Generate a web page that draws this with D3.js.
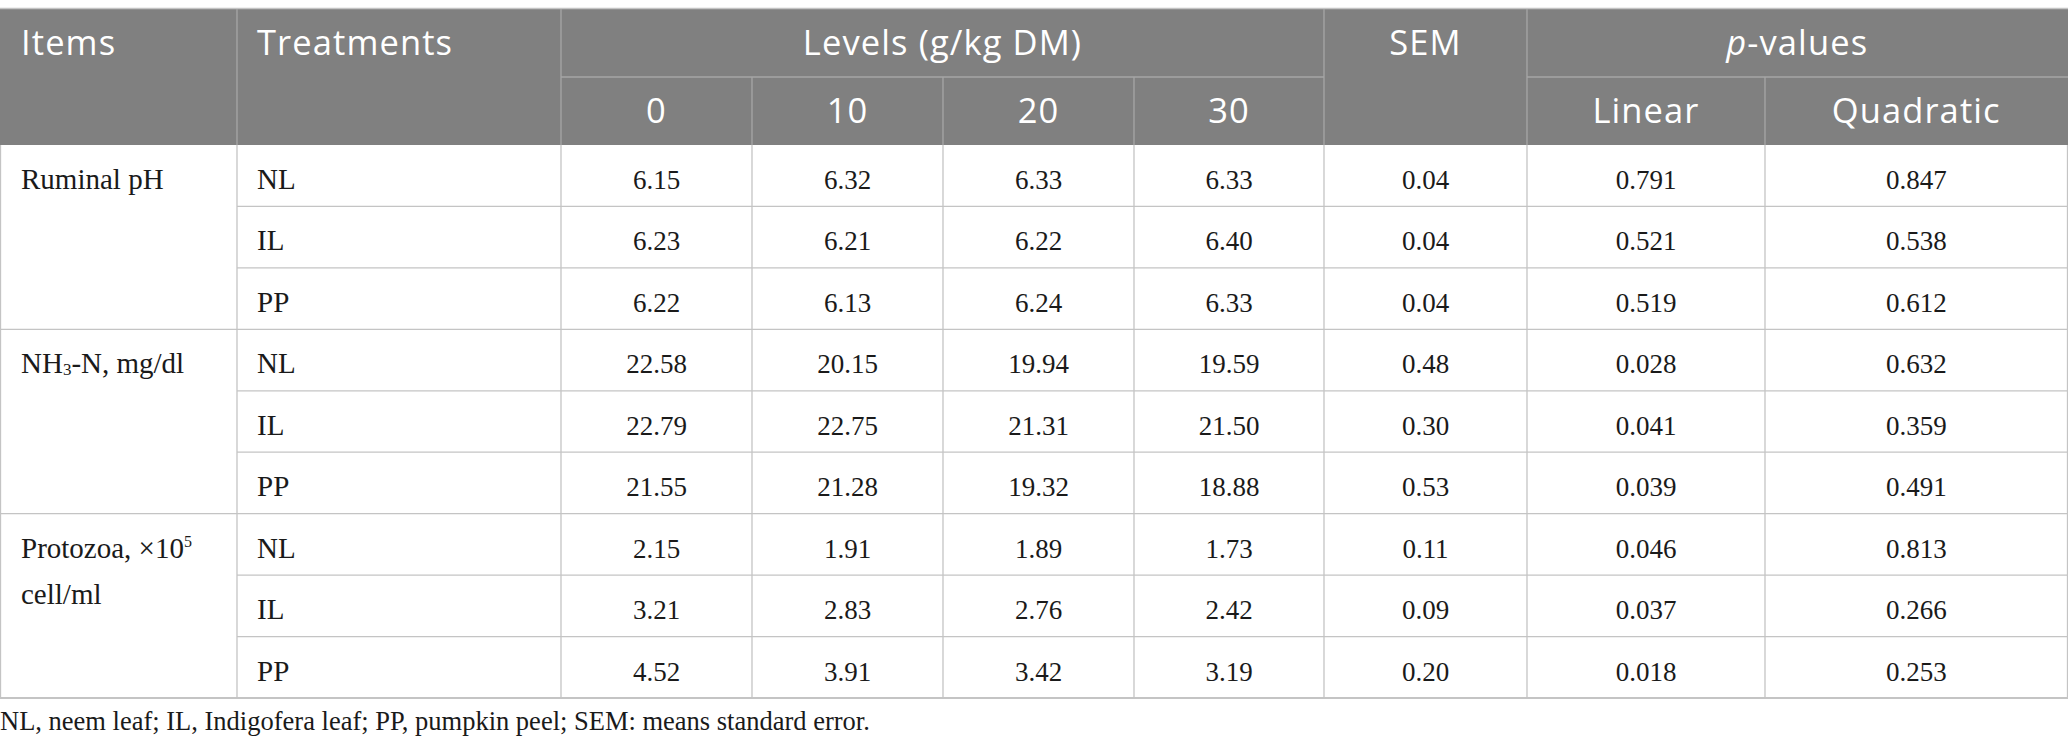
<!DOCTYPE html>
<html><head><meta charset="utf-8">
<script src="https://cdn.jsdelivr.net/npm/d3@7"></script>
<style>body{margin:0;background:#fff}svg{display:block}</style>
</head><body>
<svg id="t" width="2068" height="754"></svg>
<script>
// ---- data ----
const items = ["Ruminal pH", "NH₃-N, mg/dl", "Protozoa, ×10⁵ cell/ml"];
const treatments = ["NL", "IL", "PP"];
const levels = ["0", "10", "20", "30"];
const level0  = [6.15, 6.23, 6.22, 22.58, 22.79, 21.55, 2.15, 3.21, 4.52];
const level10 = [6.32, 6.21, 6.13, 20.15, 22.75, 21.28, 1.91, 2.83, 3.91];
const level20 = [6.33, 6.22, 6.24, 19.94, 21.31, 19.32, 1.89, 2.76, 3.42];
const level30 = [6.33, 6.40, 6.33, 19.59, 21.50, 18.88, 1.73, 2.42, 3.19];
const sem      = [0.04, 0.04, 0.04, 0.48, 0.30, 0.53, 0.11, 0.09, 0.20];
const linear   = [0.791, 0.521, 0.519, 0.028, 0.041, 0.039, 0.046, 0.037, 0.018];
const quadratic= [0.847, 0.538, 0.612, 0.632, 0.359, 0.491, 0.813, 0.266, 0.253];
const footnote = "NL, neem leaf; IL, Indigofera leaf; PP, pumpkin peel; SEM: means standard error.";

// ---- layout ----
const svg = d3.select("#t");
const colKeys = ["items","treat","l0","l10","l20","l30","sem","lin","quad","end"];
const colX = d3.scaleOrdinal().domain(colKeys).range([0.5,237,561,752,943,1134,1324,1527,1765,2067.5]);
const nextCol = k => colKeys[colKeys.indexOf(k)+1];
const colMid = k => (colX(k)+colX(nextCol(k)))/2;
const hdrTop = 9, hdrMid = 77, hdrBot = 145, tblBot = 698;
const rowY = d3.scaleBand().domain(d3.range(9)).range([hdrBot, tblBot]);
const HEAD = "'Open Sans', 'Noto Sans', sans-serif";
const SERIF = "'Liberation Serif', 'Times New Roman', serif";
const gridC = "#c4c4c4", hdrLine = "#a6a6a6", hdrBg = "#808080";

// header background
svg.append("rect").attr("x",0).attr("y",hdrTop).attr("width",2068).attr("height",hdrBot-hdrTop).attr("fill",hdrBg);
svg.append("line").attr("x1",0).attr("x2",2068).attr("y1",hdrTop-0.5).attr("y2",hdrTop-0.5).attr("stroke",gridC).attr("stroke-width",1.5);

const hl = (x1,y1,x2,y2,c,w)=>svg.append("line").attr("x1",x1).attr("y1",y1).attr("x2",x2).attr("y2",y2).attr("stroke",c).attr("stroke-width",w||1.3);
// header lines
["treat","l0","sem","lin"].forEach(k=>hl(colX(k),hdrTop,colX(k),hdrBot,hdrLine));
["l10","l20","l30","quad"].forEach(k=>hl(colX(k),hdrMid,colX(k),hdrBot,hdrLine));
hl(colX("l0"),hdrMid,colX("sem"),hdrMid,hdrLine);
hl(colX("lin"),hdrMid,2068,hdrMid,hdrLine);

// header text
const htxt = (x,y,s,anchor)=>svg.append("text").attr("x",x).attr("y",y).attr("text-anchor",anchor||"middle")
  .attr("font-family",HEAD).attr("font-size",34.5).attr("letter-spacing",1.1).attr("fill","#fff").text(s);
const b1 = hdrTop + 46, b2 = hdrMid + 46;
htxt(21,b1,"Items","start");
htxt(colX("treat")+20,b1,"Treatments","start");
htxt((colX("l0")+colX("sem"))/2,b1,"Levels (g/kg DM)");
htxt(colMid("sem"),b1,"SEM");
const pv = htxt((colX("lin")+colX("end"))/2,b1,"");
pv.append("tspan").attr("font-style","italic").text("p");
pv.append("tspan").text("-values");
levels.forEach((l,i)=>htxt(colMid(["l0","l10","l20","l30"][i]),b2,l));
htxt(colMid("lin"),b2,"Linear");
htxt(colMid("quad"),b2,"Quadratic");

// body grid
d3.range(1,9).forEach(i=>{
  const y = rowY(i);
  const x1 = (i%3===0) ? 0 : colX("treat");
  hl(x1,y,2068,y,gridC);
});
hl(0,tblBot,2068,tblBot,gridC,1.8);
colKeys.forEach(k=>hl(colX(k),hdrBot,colX(k),tblBot,gridC));

// body text
const btxt = (x,y,s,anchor,fs)=>svg.append("text").attr("x",x).attr("y",y).attr("text-anchor",anchor||"middle")
  .attr("font-family",SERIF).attr("font-size",fs||27).attr("fill","#1a1a1a").text(s);
const bo = 44;
// items
btxt(21,rowY(0)+bo,items[0],"start",29);
const nh = btxt(21,rowY(3)+bo,"","start",29);
nh.append("tspan").text("NH");
nh.append("tspan").attr("font-size",17).attr("dy",2).text("3");
nh.append("tspan").attr("dy",-2).text("-N, mg/dl");
const pr = btxt(21,rowY(6)+bo,"","start",29);
pr.append("tspan").text("Protozoa, ×10");
pr.append("tspan").attr("font-size",16).attr("dy",-11).text("5");
btxt(21,rowY(6)+bo+46,"cell/ml","start",29);

const cols = [["l0",level0,2],["l10",level10,2],["l20",level20,2],["l30",level30,2],["sem",sem,2],["lin",linear,3],["quad",quadratic,3]];
d3.range(9).forEach(r=>{
  btxt(colX("treat")+20,rowY(r)+bo,treatments[r%3],"start",29);
  cols.forEach(([k,arr,d])=>btxt(colMid(k),rowY(r)+bo,arr[r].toFixed(d)));
});

// footnote
btxt(0,730,footnote,"start",26.5);
</script>
</body></html>
